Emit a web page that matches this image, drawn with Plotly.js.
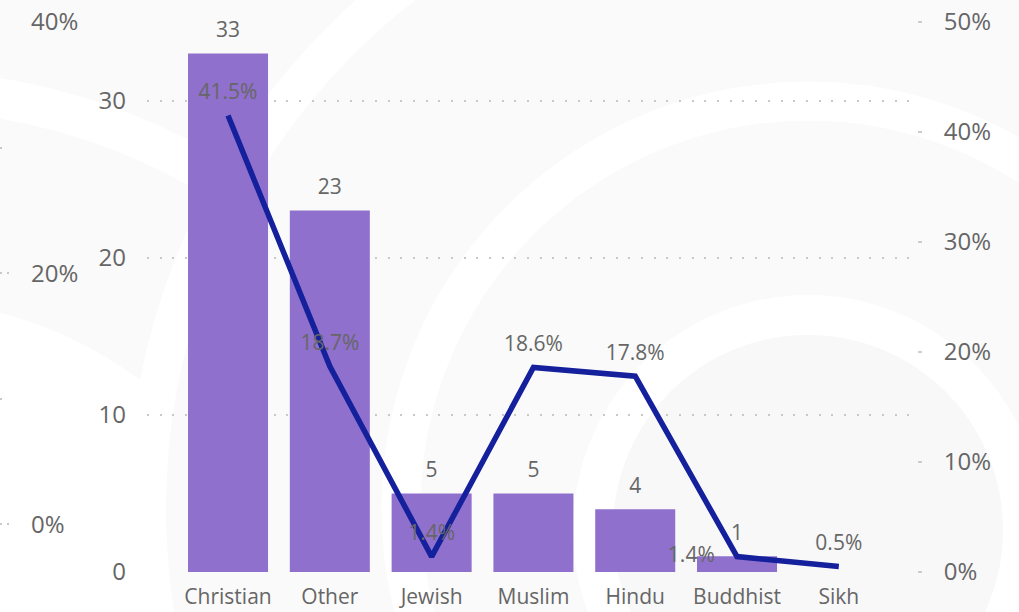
<!DOCTYPE html>
<html><head><meta charset="utf-8">
<script src="https://cdn.plot.ly/plotly-3.0.1.min.js"></script>
<style>html,body{margin:0;padding:0;background:#fafafa;} #chart{width:1019px;height:612px;}</style>
</head><body><div id="chart"></div>
<script>
const categories = ['Christian', 'Other', 'Jewish', 'Muslim', 'Hindu', 'Buddhist', 'Sikh'];
const counts = [33, 23, 5, 5, 4, 1, 0];
const shares = [0.415, 0.187, 0.014, 0.186, 0.178, 0.014, 0.005];
const countTicks = [0, 10, 20, 30];
const shareTicks = [0, 0.1, 0.2, 0.3, 0.4, 0.5];
const leftShareTicks = [0, 0.2, 0.4];
const leftShareMinor = [0.1, 0.3];

const W = 1019, T = 22, Bpx = 572, H = Bpx - T;
function circ(cx, cy, r, style) {
  return Object.assign({type: 'circle', xref: 'paper', yref: 'paper', layer: 'below',
    x0: (cx - r) / W, x1: (cx + r) / W, y0: (Bpx - (cy + r)) / H, y1: (Bpx - (cy - r)) / H}, style);
}
const white = '#ffffff', bg = '#fafafa';
const shapes = [
  circ(-100, 700, 610, {line: {color: white, width: 40}, fillcolor: 'rgba(0,0,0,0)'}),
  circ(-100, 700, 400, {line: {width: 0}, fillcolor: white}),
  circ(808, 508, 643, {line: {width: 0}, fillcolor: bg}),
  circ(808, 508, 661, {line: {color: white, width: 38}, fillcolor: 'rgba(0,0,0,0)'}),
  circ(808, 508, 407, {line: {color: white, width: 39}, fillcolor: 'rgba(0,0,0,0)'}),
  circ(808, 530, 215, {line: {color: white, width: 40}, fillcolor: 'rgba(0,0,0,0)'}),
  circ(808, 530, 195, {line: {width: 0}, fillcolor: '#f8f8f8'})
];

const pctText = shares.map(v => (v * 100).toFixed(1) + '%');
const countText = counts.map(v => v > 0 ? String(v) : '');
const pctPos = categories.map(c => c === 'Buddhist' ? 'middle left' : 'top center');
const pctMarker = categories.map(c => c === 'Buddhist' ? 34 : 16);

const labelFont = {family: 'Open Sans', size: 21, color: '#666666'};
const hiddenMarker = {color: 'rgba(0,0,0,0)', line: {width: 0, color: 'rgba(0,0,0,0)'}};

const traces = [
  {type: 'bar', x: categories, y: counts, marker: {color: '#8F70CC'}, hoverinfo: 'none'},
  {type: 'scatter', mode: 'markers+text', x: categories, y: counts, text: countText,
   textposition: 'top center', textfont: labelFont, cliponaxis: false,
   marker: Object.assign({size: 16}, hiddenMarker), hoverinfo: 'none'},
  {type: 'scatter', mode: 'lines+markers+text', x: categories, y: shares, yaxis: 'y2',
   line: {color: '#14209C', width: 5.5}, marker: Object.assign({size: pctMarker}, hiddenMarker),
   text: pctText, textposition: pctPos, textfont: labelFont, cliponaxis: false, hoverinfo: 'none'},
  {type: 'scatter', mode: 'markers', x: [], y: [], xaxis: 'x2', yaxis: 'y3', hoverinfo: 'none'}
];

const gridStyle = {showgrid: true, gridcolor: '#c8c8c8', gridwidth: 2};
const layout = {
  width: 1019, height: 612,
  margin: {l: 0, r: 0, t: T, b: 612 - Bpx, pad: 0},
  paper_bgcolor: bg, plot_bgcolor: 'rgba(0,0,0,0)',
  font: {family: 'Open Sans', color: '#666666'},
  showlegend: false, bargap: 0.214, shapes: shapes,
  xaxis: {domain: [147 / W, 917 / W], range: [-0.796, 6.768], type: 'category',
    tickfont: {size: 21}, ticks: '', showgrid: false, zeroline: false, showline: false,
    ticklabelstandoff: 10, fixedrange: true},
  yaxis: Object.assign({range: [0, 35], tickvals: countTicks, griddash: '2px,10.67px',
    zeroline: false, showline: false, tickfont: {size: 24}, ticks: '', ticklabelstandoff: 20,
    fixedrange: true}, gridStyle),
  yaxis2: {overlaying: 'y', side: 'right', range: [0, 0.5], tickvals: shareTicks, tickformat: '.0%',
    showgrid: false, zeroline: false, showline: false, ticks: 'outside', ticklen: 4, tickwidth: 2,
    tickcolor: '#cccccc', tickfont: {size: 24}, ticklabelstandoff: 17, fixedrange: true},
  xaxis2: {domain: [0, 11 / W], anchor: 'y3', range: [0, 1], showgrid: false, zeroline: false,
    showticklabels: false, showline: false, ticks: '', fixedrange: true},
  yaxis3: Object.assign({domain: [0, 1], anchor: 'x2', side: 'right', range: [-0.038, 0.40],
    tickvals: leftShareTicks, tickformat: '.0%', griddash: '2px,4.5px',
    minor: {tickvals: leftShareMinor, showgrid: true, gridcolor: '#c8c8c8', gridwidth: 2, griddash: '2px,20px'},
    zeroline: false, showline: false, ticks: '', tickfont: {size: 24}, ticklabelstandoff: 19,
    fixedrange: true}, gridStyle)
};

Plotly.newPlot('chart', traces, layout, {displayModeBar: false, staticPlot: true});
</script>
</body></html>
